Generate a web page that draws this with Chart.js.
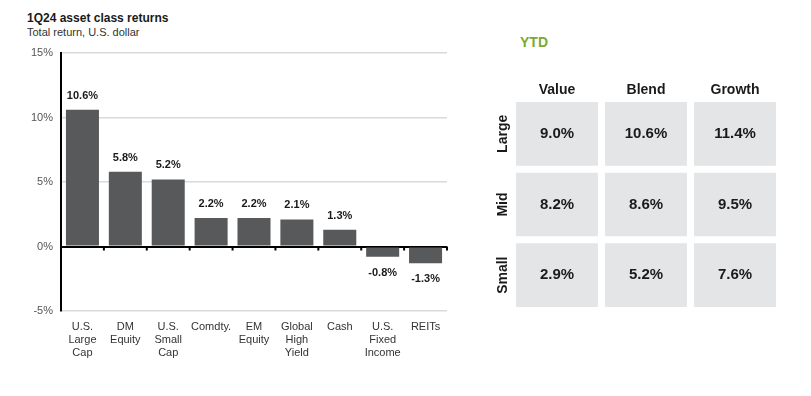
<!DOCTYPE html>
<html>
<head>
<meta charset="utf-8">
<script src="https://cdn.jsdelivr.net/npm/chart.js@4.4.1/dist/chart.umd.min.js"></script>
<style>
body{margin:0;width:811px;height:396px;background:#fff;position:relative;overflow:hidden;font-family:"Liberation Sans",Arial,sans-serif}
#title{position:absolute;left:27px;top:11px;font-size:12px;font-weight:bold;color:#1a1a1a}
#sub{position:absolute;left:27px;top:26px;font-size:11px;color:#333}
#ytd{position:absolute;left:520px;top:34px;font-size:14px;font-weight:bold;color:#7aab2e}
#bars{position:absolute;left:0;top:0}
#grid{position:absolute;left:480px;top:60px}
</style>
</head>
<body>
<div id="title">1Q24 asset class returns</div>
<div id="sub">Total return, U.S. dollar</div>
<div id="ytd">YTD</div>
<canvas id="bars" width="470" height="396"></canvas>
<canvas id="grid" width="320" height="270"></canvas>
<script>
const assetClasses=[["U.S.","Large","Cap"],["DM","Equity"],["U.S.","Small","Cap"],"Comdty.",["EM","Equity"],["Global","High","Yield"],"Cash",["U.S.","Fixed","Income"],"REITs"]
const returns1Q=[10.6,5.8,5.2,2.2,2.2,2.1,1.3,-0.8,-1.3]
const yMin=-5
const yMax=15
const yStep=5

const styleCols=["Value","Blend","Growth"]
const sizeRows=["Large","Mid","Small"]
const ytdLarge=[9.0,10.6,11.4]
const ytdMid=[8.2,8.6,9.5]
const ytdSmall=[2.9,5.2,7.6]

const font="'Liberation Sans', Arial, sans-serif"
const pct=v=>v.toFixed(1)+"%"

// labels over/under bars + small ticks on the zero line
const barExtras={
id:"barExtras",
afterDatasetsDraw(chart){
let ctx=chart.ctx
let meta=chart.getDatasetMeta(0)
ctx.save()
ctx.font="bold 11px "+font
ctx.fillStyle="#1a1a1a"
ctx.textAlign="center"
ctx.textBaseline="middle"
meta.data.forEach((b,i)=>{
let v=returns1Q[i]
if(v>=0) ctx.fillText(pct(v),b.x,b.y-14)
else ctx.fillText(pct(v),b.x,b.y+16)
})
let xs=chart.scales.x
let y0=chart.scales.y.getPixelForValue(0)
ctx.strokeStyle="#000"
ctx.lineWidth=2
for(let i=1;i<=assetClasses.length;i++){
let x=i<assetClasses.length?(xs.getPixelForValue(i-1)+xs.getPixelForValue(i))/2:chart.chartArea.right
ctx.beginPath()
ctx.moveTo(x,y0)
ctx.lineTo(x,y0+4)
ctx.stroke()
}
ctx.restore()
}
}

new Chart(document.getElementById("bars"),{
type:"bar",
data:{
labels:assetClasses,
datasets:[{
data:returns1Q,
backgroundColor:"#58595b",
barPercentage:0.77,
categoryPercentage:1
}]
},
options:{
responsive:false,
animation:false,
layout:{padding:{left:0,right:23,top:53,bottom:0}},
plugins:{legend:{display:false},tooltip:{enabled:false}},
scales:{
x:{
grid:{display:false},
border:{display:false},
ticks:{color:"#333",font:{family:font,size:11},padding:1,maxRotation:0,autoSkip:false},
afterFit:s=>{s.height=85}
},
y:{
min:yMin,max:yMax,
ticks:{stepSize:yStep,color:"#555",font:{family:font,size:11},padding:8,callback:v=>v+"%"},
grid:{
drawTicks:false,
color:c=>c.tick&&c.tick.value===0?"#000":"#d9d9d9",
lineWidth:c=>c.tick&&c.tick.value===0?2:1.5
},
border:{color:"#000",width:2},
afterFit:s=>{s.width=61}
}
}
},
plugins:[barExtras]
})

// style box
const ytdRows=[ytdLarge,ytdMid,ytdSmall]

const boxExtras={
id:"boxExtras",
afterDatasetsDraw(chart){
let ctx=chart.ctx
ctx.save()
ctx.fillStyle="#1a1a1a"
ctx.textAlign="center"
ctx.textBaseline="middle"
ctx.font="bold 15px "+font
ytdRows.forEach((row,i)=>{
let meta=chart.getDatasetMeta(i)
meta.data.forEach((b,j)=>{
ctx.fillText(pct(row[j]),b.x,(b.y+b.base)/2)
})
})
ctx.font="bold 14px "+font
let ys=chart.scales.y
sizeRows.forEach((r,i)=>{
ctx.save()
ctx.translate(23,ys.getPixelForValue(i+0.5))
ctx.rotate(-Math.PI/2)
ctx.fillText(r,0,0)
ctx.restore()
})
ctx.restore()
}
}

new Chart(document.getElementById("grid"),{
type:"bar",
data:{
labels:styleCols,
datasets:sizeRows.map((r,i)=>({
label:r,
data:styleCols.map(()=>[i+0.05,i+0.95]),
backgroundColor:"#e4e5e6",
grouped:false,
barPercentage:0.92,
categoryPercentage:1
}))
},
options:{
responsive:false,
animation:false,
layout:{padding:{left:0,right:20.5,top:0,bottom:19.5}},
plugins:{legend:{display:false},tooltip:{enabled:false}},
scales:{
x:{
position:"top",
grid:{display:false,drawTicks:false,tickLength:0},
border:{display:false},
ticks:{color:"#1a1a1a",font:{family:font,size:14,weight:"bold"},padding:0},
afterFit:s=>{s.height=38.5}
},
y:{
min:0,max:3,reverse:true,
display:true,
grid:{display:false},
border:{display:false},
ticks:{display:false},
afterFit:s=>{s.width=32.5}
}
}
},
plugins:[boxExtras]
})
</script>
</body>
</html>
